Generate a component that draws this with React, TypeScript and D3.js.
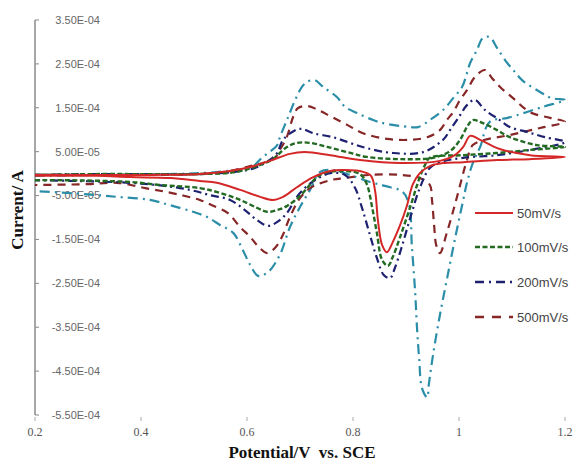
import React from "react";
import * as d3 from "d3";

// Current values are in units of 1e-4 A; potentials in V.
const UNIT = 1e-4;

const xTicks = [0.2, 0.4, 0.6, 0.8, 1.0, 1.2];
const xTickLabels = ["0.2", "0.4", "0.6", "0.8", "1", "1.2"];
const yTicks = [3.5, 2.5, 1.5, 0.5, -0.5, -1.5, -2.5, -3.5, -4.5, -5.5];
const yTickLabels = ["3.50E-04", "2.50E-04", "1.50E-04", "5.00E-05", "-5.00E-05", "-1.50E-04", "-2.50E-04", "-3.50E-04", "-4.50E-04", "-5.50E-04"];

const legendLabels = ["50mV/s", "100mV/s", "200mV/s", "500mV/s"];

const cv50: number[][] = [
  [0.200, -0.03], [0.323, -0.03], [0.417, -0.03], [0.511, -0.01], [0.568, 0.06], [0.606, 0.15], [0.643, 0.29], [0.681, 0.45], [0.709, 0.49], [0.757, 0.42], [0.813, 0.31], [0.889, 0.24], [0.964, 0.29], [0.992, 0.42], [1.008, 0.61], [1.021, 0.86], [1.040, 0.77], [1.077, 0.56], [1.134, 0.42], [1.200, 0.38],
  [1.134, 0.33], [1.072, 0.31], [1.008, 0.26], [0.970, 0.24], [0.945, 0.17], [0.926, 0.01], [0.913, -0.24], [0.902, -0.72], [0.889, -1.17], [0.875, -1.56], [0.864, -1.79], [0.855, -1.63], [0.847, -1.06], [0.842, -0.42], [0.834, -0.05], [0.819, 0.04], [0.785, 0.08], [0.757, 0.06], [0.725, -0.08], [0.694, -0.31], [0.668, -0.53], [0.649, -0.60], [0.625, -0.53], [0.587, -0.37], [0.543, -0.21], [0.511, -0.17], [0.455, -0.10], [0.379, -0.08], [0.317, -0.05], [0.200, -0.05],
];

const cv100: number[][] = [
  [0.200, -0.03], [0.323, -0.01], [0.511, -0.01], [0.581, 0.04], [0.625, 0.20], [0.649, 0.33], [0.672, 0.58], [0.694, 0.70], [0.719, 0.70], [0.751, 0.61], [0.789, 0.49], [0.826, 0.38], [0.889, 0.33], [0.951, 0.36], [0.983, 0.51], [1.002, 0.77], [1.015, 1.06], [1.026, 1.22], [1.045, 1.15], [1.072, 0.99], [1.096, 0.83], [1.147, 0.65], [1.200, 0.61],
  [1.134, 0.54], [1.072, 0.47], [1.008, 0.42], [0.945, 0.36], [0.936, 0.20], [0.926, -0.08], [0.908, -0.76], [0.889, -1.44], [0.875, -1.90], [0.866, -2.10], [0.855, -1.97], [0.845, -1.35], [0.836, -0.76], [0.826, -0.24], [0.813, -0.01], [0.775, 0.06], [0.738, -0.03], [0.700, -0.51], [0.675, -0.74], [0.657, -0.83], [0.638, -0.87], [0.619, -0.78], [0.587, -0.60], [0.549, -0.44], [0.511, -0.33], [0.436, -0.26], [0.379, -0.19], [0.253, -0.15], [0.200, -0.15],
];

const cv200: number[][] = [
  [0.200, -0.03], [0.323, -0.01], [0.511, -0.01], [0.577, 0.04], [0.615, 0.13], [0.643, 0.31], [0.657, 0.47], [0.668, 0.77], [0.691, 0.99], [0.704, 1.02], [0.725, 0.92], [0.762, 0.83], [0.794, 0.70], [0.826, 0.58], [0.875, 0.47], [0.932, 0.49], [0.970, 0.77], [0.983, 0.99], [1.002, 1.33], [1.015, 1.56], [1.030, 1.68], [1.049, 1.45], [1.077, 1.22], [1.096, 1.06], [1.128, 0.95], [1.162, 0.83], [1.200, 0.72],
  [1.134, 0.54], [1.072, 0.42], [1.008, 0.36], [0.964, 0.26], [0.945, 0.13], [0.926, -0.33], [0.908, -1.01], [0.892, -1.67], [0.879, -2.15], [0.870, -2.38], [0.858, -2.31], [0.845, -1.92], [0.832, -1.40], [0.817, -0.78], [0.804, -0.33], [0.785, -0.03], [0.757, 0.01], [0.728, -0.15], [0.709, -0.33], [0.694, -0.53], [0.677, -0.87], [0.662, -1.06], [0.640, -1.19], [0.619, -1.06], [0.596, -0.83], [0.568, -0.60], [0.530, -0.49], [0.492, -0.37], [0.445, -0.28], [0.379, -0.21], [0.285, -0.17], [0.200, -0.15],
];

const cv500: number[][] = [
  [0.200, -0.03], [0.323, -0.03], [0.511, -0.01], [0.558, 0.04], [0.606, 0.17], [0.634, 0.26], [0.653, 0.36], [0.662, 0.54], [0.675, 0.83], [0.687, 1.29], [0.696, 1.49], [0.715, 1.54], [0.734, 1.45], [0.760, 1.29], [0.789, 1.11], [0.819, 0.92], [0.864, 0.79], [0.908, 0.77], [0.940, 0.83], [0.964, 0.99], [0.977, 1.22], [0.989, 1.40], [1.002, 1.68], [1.015, 1.90], [1.030, 2.20], [1.049, 2.36], [1.062, 2.18], [1.077, 1.98], [1.102, 1.72], [1.134, 1.40], [1.172, 1.27], [1.200, 1.18],
  [1.153, 1.04], [1.096, 0.88], [1.049, 0.77], [1.026, 0.65], [1.015, 0.31], [1.006, -0.08], [0.992, -0.72], [0.977, -1.35], [0.964, -1.81], [0.957, -1.63], [0.953, -1.17], [0.949, -0.60], [0.945, -0.26], [0.926, -0.10], [0.889, -0.03], [0.832, -0.03], [0.785, -0.10], [0.757, -0.15], [0.719, -0.33], [0.700, -0.56], [0.681, -0.99], [0.666, -1.44], [0.653, -1.69], [0.638, -1.81], [0.619, -1.63], [0.606, -1.44], [0.587, -1.22], [0.564, -0.90], [0.534, -0.72], [0.511, -0.60], [0.483, -0.51], [0.449, -0.42], [0.408, -0.33], [0.355, -0.21], [0.298, -0.24], [0.200, -0.26],
];

const cv1000: number[][] = [
  [0.200, -0.05], [0.323, -0.03], [0.511, 0.01], [0.577, 0.08], [0.609, 0.15], [0.628, 0.36], [0.657, 0.65], [0.662, 0.83], [0.677, 1.27], [0.691, 1.68], [0.704, 1.98], [0.713, 2.09], [0.728, 2.13], [0.743, 1.98], [0.770, 1.74], [0.785, 1.52], [0.808, 1.38], [0.838, 1.22], [0.857, 1.15], [0.908, 1.06], [0.923, 1.06], [0.945, 1.22], [0.970, 1.45], [0.989, 1.72], [1.006, 1.98], [1.015, 2.29], [1.021, 2.52], [1.034, 2.82], [1.045, 3.09], [1.058, 3.11], [1.072, 2.86], [1.091, 2.52], [1.106, 2.31], [1.119, 2.13], [1.153, 1.86], [1.175, 1.72], [1.200, 1.68],
  [1.158, 1.52], [1.092, 1.27], [1.058, 1.18], [1.040, 0.61], [1.026, 0.24], [1.015, -0.21], [1.008, -0.60], [0.992, -1.51], [0.977, -2.42], [0.964, -3.22], [0.951, -4.13], [0.943, -4.81], [0.940, -5.10], [0.930, -4.88], [0.925, -4.24], [0.921, -3.56], [0.917, -2.65], [0.911, -1.63], [0.906, -0.72], [0.894, -0.42], [0.860, -0.28], [0.832, -0.19], [0.794, -0.03], [0.762, 0.08], [0.738, 0.04], [0.719, -0.37], [0.700, -0.76], [0.681, -1.22], [0.662, -1.85], [0.640, -2.24], [0.621, -2.33], [0.606, -2.08], [0.592, -1.74], [0.574, -1.35], [0.549, -1.17], [0.525, -0.99], [0.498, -0.87], [0.455, -0.72], [0.417, -0.60], [0.355, -0.53], [0.285, -0.46], [0.204, -0.40],
];

const series = [
  { data: cv1000, color: "#2b8ea8", dash: "10,5,2,5", width: 2.2 },
  { data: cv500, color: "#862626", dash: "8,6", width: 2.2 },
  { data: cv200, color: "#1d2170", dash: "8,4,2,4", width: 2.2 },
  { data: cv100, color: "#236b23", dash: "5,2.5", width: 2.4 },
  { data: cv50, color: "#d42828", dash: "", width: 2 },
];

const legendStyles = [
  { color: "#d42828", dash: "", width: 2 },
  { color: "#236b23", dash: "5,2.5", width: 2.4 },
  { color: "#1d2170", dash: "9,5,2,5", width: 2.4 },
  { color: "#862626", dash: "9,8", width: 2.4 },
];

export default function App() {
  const W = 573, H = 461;
  const x = d3.scaleLinear().domain([0.2, 1.2]).range([35, 565]);
  const y = d3.scaleLinear().domain([-5.5 * UNIT, 3.5 * UNIT]).range([415, 20]);
  const line = d3
    .line<number[]>()
    .x((d) => x(d[0]))
    .y((d) => y(d[1] * UNIT))
    .curve(d3.curveCatmullRom.alpha(0.5));

  const legendY = [213, 247, 282, 317];

  return (
    <svg width={W} height={H} style={{ position: "absolute", left: 0, top: 0, background: "#fff" }}>
      <rect width={W} height={H} fill="#fff" />
      {/* y axis */}
      <line x1={x(0.2)} x2={x(0.2)} y1={y(3.5 * UNIT)} y2={y(-5.5 * UNIT)} stroke="#8a8a8a" strokeWidth={1.5} />
      {yTicks.map((t, i) => (
        <g key={"yt" + i}>
          <line x1={x(0.2)} x2={x(0.2) + 4} y1={y(t * UNIT)} y2={y(t * UNIT)} stroke="#8a8a8a" strokeWidth={1} />
          <text x={100} y={y(t * UNIT)} dy="0.35em" textAnchor="end" fontFamily="'Liberation Sans', Arial, sans-serif" fontSize={11} fill="#666">
            {yTickLabels[i]}
          </text>
        </g>
      ))}
      {/* x ticks */}
      {xTicks.map((t, i) => (
        <g key={"xt" + i}>
          <line x1={x(t)} x2={x(t)} y1={417} y2={421} stroke="#aaa" strokeWidth={1} />
          <text x={x(t)} y={432} dy="0.35em" textAnchor="middle" fontFamily="'Liberation Serif', 'Times New Roman', serif" fontSize={12} fill="#555">
            {xTickLabels[i]}
          </text>
        </g>
      ))}
      {/* curves */}
      {series.map((s, i) => (
        <path key={"s" + i} d={line(s.data) || ""} fill="none" stroke={s.color} strokeWidth={s.width} strokeDasharray={s.dash} strokeLinejoin="round" />
      ))}
      {/* legend */}
      {legendLabels.map((l, i) => (
        <g key={"lg" + i}>
          <line x1={475} x2={513} y1={legendY[i]} y2={legendY[i]} stroke={legendStyles[i].color} strokeWidth={legendStyles[i].width} strokeDasharray={legendStyles[i].dash} />
          <text x={517} y={legendY[i]} dy="0.35em" fontFamily="'Liberation Sans', Arial, sans-serif" fontSize={13} fill="#444">
            {l}
          </text>
        </g>
      ))}
      {/* axis titles */}
      <text transform={`translate(17,210) rotate(-90)`} textAnchor="middle" dy="0.35em" fontFamily="'Liberation Serif', 'Times New Roman', serif" fontWeight="bold" fontSize={17} fill="#111">
        Current/ A
      </text>
      <text x={302} y={452} dy="0.35em" textAnchor="middle" fontFamily="'Liberation Serif', 'Times New Roman', serif" fontWeight="bold" fontSize={17} fill="#111" style={{ whiteSpace: "pre" }}>
        {"Potential/V  vs. SCE"}
      </text>
    </svg>
  );
}
